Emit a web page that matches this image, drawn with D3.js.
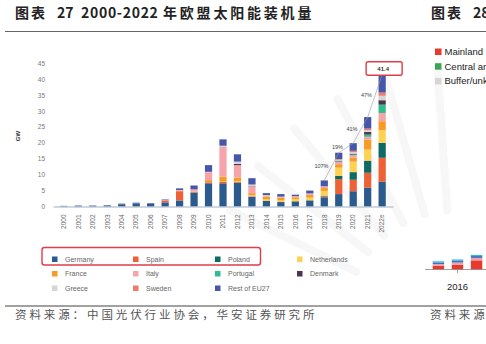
<!DOCTYPE html>
<html>
<head>
<meta charset="utf-8">
<script src="https://cdn.jsdelivr.net/npm/d3@7"></script>
<style>
  body { margin: 0; background: #fff; }
  svg { display: block; font-family: "Liberation Sans", Arial, sans-serif; }
  .cjk { font-family: "Noto Sans CJK SC", sans-serif; }
</style>
</head>
<body>
<svg width="486" height="344"></svg>
<script>
// years on the x axis
const years = ["2000","2001","2002","2003","2004","2005","2006","2007","2008","2009","2010",
  "2011","2012","2013","2014","2015","2016","2017","2018","2019","2020","2021","2022e"];

// GW installed per country
const germany     = [0.1,0.1,0.1,0.2,0.7,0.9,0.8,1.3,1.9,4.4,7.3,7.3,7.5,3.1,1.8,1.4,1.5,1.8,2.9,3.9,4.8,5.9,7.8];
const spain       = [0,0,0,0,0,0,0.1,0.6,2.9,0.1,0.3,0.4,0.2,0.1,0,0,0.1,0.1,0.3,4.7,3.6,4.7,7.5];
const poland      = [0,0,0,0,0,0,0,0,0,0,0,0,0,0,0,0,0.1,0.1,0.2,1.0,2.4,3.8,4.7];
const netherlands = [0,0,0,0,0,0,0,0,0,0,0,0.1,0.2,0.3,0.4,0.5,0.6,0.8,1.5,2.6,3.3,3.5,4.0];
const france      = [0,0,0,0,0,0,0,0,0.1,0.2,0.7,1.6,1.2,0.7,0.9,0.9,0.6,0.9,0.9,1.1,1.2,3.1,2.8];
const italy       = [0,0,0,0,0,0,0,0.1,0.3,0.7,2.5,9.3,3.9,2.1,0.4,0.3,0.4,0.4,0.4,0.7,0.8,0.9,2.6];
const portugal    = [0,0,0,0,0,0,0,0,0,0,0,0,0,0,0,0,0,0,0,0.2,0.2,0.7,2.6];
const denmark     = [0,0,0,0,0,0,0,0,0,0,0,0,0.4,0.1,0,0,0,0,0.1,0.2,0.3,0.8,1.4];
const greece      = [0,0,0,0,0,0,0,0,0,0,0.1,0.4,0.7,0.5,0.1,0,0,0,0.1,0.3,0.5,0.6,1.4];
const sweden      = [0,0,0,0,0,0,0,0,0,0,0,0,0,0,0,0,0,0,0,0.2,0.4,0.5,1.0];
const restEU      = [0.1,0.2,0.2,0.2,0.2,0.3,0.2,0.2,0.5,1.2,2.1,2.0,2.3,2.0,0.6,0.8,0.4,0.9,1.8,2.0,2.4,3.6,5.6];

const countries = ["Germany","Spain","Poland","Netherlands","France","Italy","Portugal","Denmark","Greece","Sweden","Rest of EU27"];
const seriesValues = [germany, spain, poland, netherlands, france, italy, portugal, denmark, greece, sweden, restEU];
const colors = ["#2b5a8d","#ee6035","#0f6a64","#fdd253","#f89b25","#f5a5aa","#2ebd8b","#4b3650","#d9d4d4","#f17a6b","#4657aa"];

// growth labels between the last five bars
const growthYears = ["2018","2019","2020","2021","2022e"];
const growthLabels = ["107%","19%","41%","47%"];
const yTicks = [0,5,10,15,20,25,30,35,40,45];

// the cut-off neighbour chart on the right
const rightLegend = ["Mainland China","Central and Eastern","Buffer/unknown"];
const rightLegendColors = ["#e8392d","#3aa655","#d6d6d6"];
const rightYears = ["2015","2016","2017"];
const rightMainland = [1.2, 1.6, 3.0];
const rightOther = [0.6, 0.7, 0.8];
const rightBlue = [0.5, 0.6, 0.6];

const svg = d3.select("svg");
svg.append("rect").attr("width", 486).attr("height", 344).attr("fill", "#fff");

// faint sunburst watermark behind the chart
const rays = svg.append("g").attr("stroke", "#f7f7f7").attr("stroke-linecap", "round");
[206, 218, 230, 242, 254, 266].forEach(a => {
  const r = a * Math.PI / 180;
  rays.append("line")
    .attr("x1", 455 + 110 * Math.cos(r)).attr("y1", 320 + 110 * Math.sin(r))
    .attr("x2", 455 + 250 * Math.cos(r)).attr("y2", 320 + 250 * Math.sin(r))
    .attr("stroke-width", 8);
});

// title + rules
const title = svg.append("text").attr("class", "cjk").attr("y", 18)
  .attr("font-size", 14).attr("font-weight", 700).attr("fill", "#222");
title.append("tspan").attr("x", 15).attr("letter-spacing", 2).text("图表");
title.append("tspan").attr("x", 57).text("27");
title.append("tspan").attr("x", 81).attr("letter-spacing", 0.7).text("2000-2022");
title.append("tspan").attr("x", 163).attr("letter-spacing", 2.8).text("年欧盟太阳能装机量");
const title2 = svg.append("text").attr("class", "cjk").attr("y", 18)
  .attr("font-size", 14).attr("font-weight", 700).attr("fill", "#222");
title2.append("tspan").attr("x", 431).attr("letter-spacing", 2).text("图表");
title2.append("tspan").attr("x", 473).text("28");

svg.append("line").attr("x1", 5).attr("x2", 486).attr("y1", 31.5).attr("y2", 31.5)
  .attr("stroke", "#666").attr("stroke-width", 1);
svg.append("line").attr("x1", 5).attr("x2", 486).attr("y1", 306).attr("y2", 306)
  .attr("stroke", "#444").attr("stroke-width", 1);
svg.append("text").attr("class", "cjk").attr("x", 15).attr("y", 318.5)
  .attr("font-size", 11.5).attr("fill", "#555").attr("letter-spacing", 2.9)
  .text("资料来源：中国光伏行业协会，华安证券研究所");
svg.append("text").attr("class", "cjk").attr("x", 430).attr("y", 318.5)
  .attr("font-size", 11.5).attr("fill", "#555").attr("letter-spacing", 2.9)
  .text("资料来源");

// scales
const x = d3.scaleBand().domain(years).range([53, 393]).paddingInner(0.5).paddingOuter(0.5);
const y = d3.scaleLinear().domain([0, 45]).range([206.5, 63.3]);

const table = years.map((yr, i) => {
  const row = { year: yr };
  countries.forEach((c, j) => row[c] = seriesValues[j][i]);
  return row;
});
const stack = d3.stack().keys(countries)(table);
const totals = years.map((_, i) => d3.sum(seriesValues, s => s[i]));

// y labels
svg.append("g").selectAll("text").data(yTicks).join("text")
  .attr("x", 45).attr("y", d => y(d) + 2.5)
  .attr("text-anchor", "end").attr("font-size", 6.5).attr("fill", "#777")
  .text(d => d);
svg.append("text").attr("transform", "translate(20,136) rotate(-90)")
  .attr("text-anchor", "middle").attr("font-size", 6).attr("font-weight", 700).attr("fill", "#333")
  .text("GW");

// stacked bars
svg.append("g").selectAll("g").data(stack).join("g")
  .attr("fill", (d, i) => colors[i])
  .selectAll("rect").data(d => d).join("rect")
  .attr("x", d => x(d.data.year))
  .attr("width", x.bandwidth())
  .attr("y", d => y(d[1]))
  .attr("height", d => Math.max(0, y(d[0]) - y(d[1])));

// x axis
const xAxis = svg.append("g").attr("transform", "translate(0,206.5)")
  .call(d3.axisBottom(x).tickSize(0).tickPadding(0));
xAxis.select(".domain").attr("stroke", "#9fb0c2").attr("stroke-width", 1);
xAxis.selectAll("text")
  .attr("font-size", 6.5).attr("fill", "#666").attr("font-family", "Liberation Sans, Arial")
  .attr("text-anchor", "end").attr("dy", "0.35em")
  .attr("transform", "translate(0,8) rotate(-90)");

// growth line over the last bars
const growthPts = growthYears.map(yr => [x(yr) + x.bandwidth() / 2, y(totals[years.indexOf(yr)])]);
svg.append("path").datum(growthPts)
  .attr("d", d3.line()).attr("fill", "none").attr("stroke", "#999").attr("stroke-width", 0.6);
svg.append("g").selectAll("text").data(growthLabels).join("text")
  .attr("x", (d, i) => (growthPts[i][0] + growthPts[i + 1][0]) / 2 - 3)
  .attr("y", (d, i) => (growthPts[i][1] + growthPts[i + 1][1]) / 2 + 1)
  .attr("text-anchor", "end").attr("font-size", 5.5).attr("fill", "#444")
  .text(d => d);

// 2022e total label in red box
const last = years[years.length - 1];
const lastX = x(last) + x.bandwidth() / 2;
svg.append("rect").attr("x", lastX - 16).attr("y", y(totals[totals.length - 1]) - 13)
  .attr("width", 36).attr("height", 13.5).attr("rx", 2)
  .attr("fill", "#fff").attr("stroke", "#e23b4a").attr("stroke-width", 1.4);
svg.append("text").attr("x", lastX + 1).attr("y", y(totals[totals.length - 1]) - 4)
  .attr("text-anchor", "middle").attr("font-size", 6).attr("font-weight", 700).attr("fill", "#333")
  .text(d3.format(".1f")(totals[totals.length - 1]));

// legend: 4 columns x 3 rows
const colX = [52, 133, 215, 297];
const rowY = [259.5, 274, 288.5];
const legend = svg.append("g").selectAll("g").data(countries).join("g")
  .attr("transform", (d, i) => `translate(${colX[i % 4]},${rowY[Math.floor(i / 4)]})`);
legend.append("rect").attr("x", 0).attr("y", -3).attr("width", 5.5).attr("height", 5.5)
  .attr("fill", (d, i) => colors[i]);
legend.append("text").attr("x", 13).attr("y", 2.4)
  .attr("font-size", 7).attr("fill", "#666").text(d => d);
svg.append("rect").attr("x", 42).attr("y", 247.5).attr("width", 218.5).attr("height", 17.5)
  .attr("rx", 2.5).attr("fill", "none").attr("stroke", "#e23b4a").attr("stroke-width", 1.4);

// right-hand neighbour chart (cut off)
const rl = svg.append("g").selectAll("g").data(rightLegend).join("g")
  .attr("transform", (d, i) => `translate(435,${48.5 + i * 14.7})`);
rl.append("rect").attr("width", 6.5).attr("height", 6.5).attr("fill", (d, i) => rightLegendColors[i]);
rl.append("text").attr("x", 9.5).attr("y", 6.5).attr("font-size", 9.5).attr("fill", "#222").text(d => d);

const rx = d3.scaleBand().domain(rightYears).range([427, 488]).paddingInner(0.4).paddingOuter(0.3);
const ry = d3.scaleLinear().domain([0, 10]).range([269.5, 239]);
const rTable = rightYears.map((yr, i) => ({ year: yr, main: rightMainland[i], other: rightOther[i], blue: rightBlue[i] }));
const rStack = d3.stack().keys(["main", "other", "blue"])(rTable);
const rColors = ["#e8392d", "#f2a0a8", "#3b6fc0"];
svg.append("g").selectAll("g").data(rStack).join("g")
  .attr("fill", (d, i) => rColors[i])
  .selectAll("rect").data(d => d).join("rect")
  .attr("x", d => rx(d.data.year)).attr("width", rx.bandwidth())
  .attr("y", d => ry(d[1])).attr("height", d => ry(d[0]) - ry(d[1]));
// thin cyan cap lines on right bars
svg.append("g").selectAll("rect").data(rTable).join("rect")
  .attr("x", d => rx(d.year)).attr("width", rx.bandwidth())
  .attr("y", d => ry(d.main + d.other + d.blue) - 1.2).attr("height", 1.2).attr("fill", "#37b3e0");
svg.append("line").attr("x1", 425).attr("x2", 486).attr("y1", 269.5).attr("y2", 269.5)
  .attr("stroke", "#888").attr("stroke-width", 0.8);
svg.append("line").attr("x1", rx("2016") + rx.bandwidth() / 2).attr("x2", rx("2016") + rx.bandwidth() / 2)
  .attr("y1", 269.5).attr("y2", 273).attr("stroke", "#888").attr("stroke-width", 0.8);
svg.append("text").attr("x", rx("2016") + rx.bandwidth() / 2).attr("y", 290)
  .attr("text-anchor", "middle").attr("font-size", 9.5).attr("fill", "#222").text("2016");
</script>
</body>
</html>
